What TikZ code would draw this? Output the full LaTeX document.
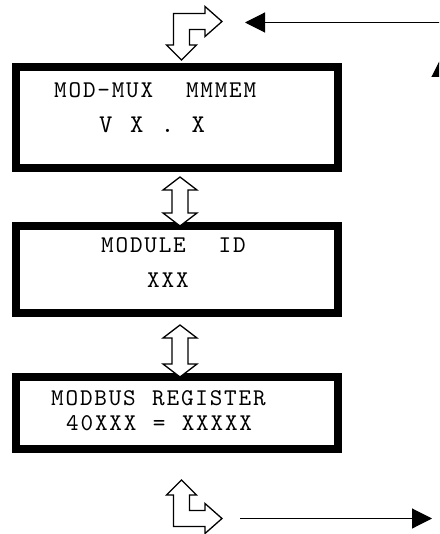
\documentclass[tikz,border=0pt]{standalone}
\usepackage{fontspec}
\newfontfamily\lcdfont[LetterSpace=7.5,WordSpace=1.14]{lmmono10-regular.otf}
\usetikzlibrary{arrows.meta}
\begin{document}
\begin{tikzpicture}[x=1pt, y=-1pt, line join=miter, >={Triangle[length=20pt,width=20pt]},
	lcd/.style={draw, line width=8pt, inner sep=0pt, minimum width=322pt},
	lcdin/.style={line width=1.4pt},
	lcdtxt/.style={anchor=base west, inner sep=0pt, font=\lcdfont\fontsize{24}{24}\selectfont},
	lcdbig/.style={lcdtxt, font=\lcdfont\fontsize{25.5}{25.5}\selectfont},
	hollow/.style={draw, line width=1.3pt, fill=white},
	flow/.style={line width=1.1pt, ->}]
		\useasboundingbox (0,0) rectangle (439,534);
		\clip (0,0) rectangle (439,534);
		% display frames
		\node[lcd, minimum height=101pt] (box1) at (177,117.5) {};
		\node[lcd, minimum height=87pt] (box2) at (177,269.5) {};
		\node[lcd, minimum height=72pt] (box3) at (177,413) {};
		\foreach \b in {box1,box2,box3}
			\draw[lcdin] ([shift={(7pt,-7pt)}]\b.north west) rectangle ([shift={(-7pt,7pt)}]\b.south east);
		% display texts
		\node[lcdtxt] (t1a) at (54,98) {MOD-MUX\ \ MMMEM};
		\node[lcdbig] (t1b) at (99,133) {V X . X};
		\node[lcdtxt] (t2a) at (101,252) {MODULE\ \ ID};
		\node[lcdtxt] (t2b) at (147,287) {XXX};
		\node[lcdtxt] (t3a) at (51,405) {MODBUS REGISTER};
		\node[lcdtxt] (t3b) at (66,430) {40XXX = XXXXX};
		% up/down keys between frames
		\draw[hollow] ([shift={(3pt,-5pt)}]box1.south) -- ++(17,13) -- ++(-9,0) -- ++(0,23) -- ++(9,0) -- ++(-17,13)
			-- ++(-17,-13) -- ++(9,0) -- ++(0,-23) -- ++(-9,0) -- cycle;
		\draw[hollow] ([shift={(3pt,-8pt)}]box2.south) -- ++(17,13) -- ++(-9,0) -- ++(0,26) -- ++(9,0) -- ++(-17,13)
			-- ++(-17,-13) -- ++(9,0) -- ++(0,-26) -- ++(-9,0) -- cycle;
		% entry and exit turns
		\draw[hollow] (173.5,45) -- (173.5,13.5) -- (205,13.5) -- (205,6.5) -- (222,21.5) -- (205,36.5) -- (205,29.5)
			-- (189.5,29.5) -- (189.5,45) -- (196.5,45) -- (181.5,60) -- (166.5,45) -- cycle;
		\draw[hollow] (173.5,495) -- (173.5,526.5) -- (205,526.5) -- (205,533.5) -- (222,518.5) -- (205,503.5) -- (205,510.5)
			-- (189.5,510.5) -- (189.5,495) -- (196.5,495) -- (181.5,480) -- (166.5,495) -- cycle;
		\coordinate (instart) at (440,22.5);
		\coordinate (inend) at (245,22.5);
		\coordinate (outstart) at (240,518.5);
		\coordinate (outend) at (432,518.5);
		\coordinate (retstart) at (441.5,120);
		\coordinate (retend) at (441.5,57);
		\draw[flow] (instart) -- (inend);
		\draw[flow] (outstart) -- (outend);
		\draw[flow] (retstart) -- (retend);
	\end{tikzpicture}
\end{document}
